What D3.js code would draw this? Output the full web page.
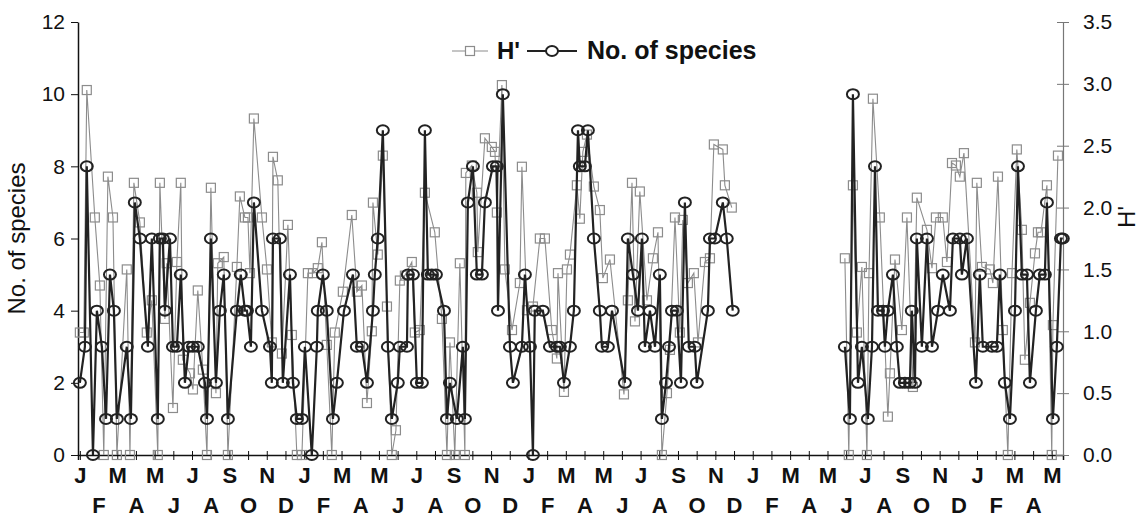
<!DOCTYPE html>
<html>
<head>
<meta charset="utf-8">
<script src="https://cdn.jsdelivr.net/npm/d3@7"></script>
<style>
body { margin: 0; background: #fff; }
text { font-family: "Liberation Sans", Arial, sans-serif; fill: #111; }
</style>
</head>
<body>
<div id="chart"></div>
<script>
// month letters, one per month from January of year 1 to May of year 5
const monthLabels = ['J','F','M','A','M','J','J','A','S','O','N','D',
                     'J','F','M','A','M','J','J','A','S','O','N','D',
                     'J','F','M','A','M','J','J','A','S','O','N','D',
                     'J','F','M','A','M','J','J','A','S','O','N','D',
                     'J','F','M','A','M']
const speciesTicks = [0, 2, 4, 6, 8, 10, 12]
const hTicks = [0, 0.5, 1, 1.5, 2, 2.5, 3, 3.5]

// [month since start, number of species]
const speciesData = [
  [0.00,2],[0.27,3],[0.37,8],[0.70,0],[0.91,4],[1.18,3],[1.40,1],[1.61,5],[1.82,4],[1.98,1],
  [2.51,3],[2.73,1],[2.94,7],[3.21,6],[3.64,3],[3.85,6],[4.17,1],[4.28,6],[4.44,6],[4.55,4],
  [4.82,6],[4.98,3],[5.19,3],[5.40,5],[5.62,2],[5.83,3],[6.05,3],[6.31,3],[6.69,2],[6.80,1],
  [7.01,6],[7.28,2],[7.49,4],[7.70,5],[7.92,1],[8.40,4],[8.61,5],[8.83,4],[8.94,4],[9.15,3],
  [9.31,7],[9.74,4],[10.17,3],[10.27,2],[10.33,6],[10.70,6],[10.86,2],[11.24,5],[11.40,2],[11.61,1],
  [11.88,1],[12.04,3],[12.41,0],[12.68,3],[12.73,4],[13.00,5],[13.21,4],[13.54,1],[13.75,2],[14.13,4],
  [14.61,5],[14.82,3],[15.09,3],[15.36,2],[15.68,4],[15.78,5],[15.94,6],[16.21,9],[16.48,3],[16.69,1],
  [17.01,2],[17.12,3],[17.50,3],[17.55,5],[17.82,5],[18.03,2],[18.30,2],[18.46,9],[18.62,5],[18.83,5],
  [19.05,5],[19.48,4],[19.64,1],[19.80,2],[20.17,1],[20.49,3],[20.60,1],[20.76,7],[21.03,8],[21.24,5],
  [21.51,5],[21.67,7],[22.10,8],[22.31,8],[22.37,4],[22.63,10],[23.01,3],[23.17,2],[23.65,3],[23.81,5],
  [24.08,3],[24.24,0],[24.34,4],[24.77,4],[25.15,3],[25.52,3],[25.68,3],[25.90,2],[26.22,3],[26.43,4],
  [26.65,9],[26.75,8],[27.02,8],[27.18,9],[27.50,6],[27.82,4],[27.93,3],[28.25,3],[28.47,4],[29.16,2],
  [29.32,6],[29.59,5],[29.86,4],[30.07,6],[30.23,3],[30.50,4],[30.77,3],[31.03,5],[31.14,1],[31.36,2],
  [31.52,3],[31.68,4],[31.94,4],[32.16,2],[32.37,7],[32.58,3],[32.90,3],[33.01,2],[33.60,4],[33.71,6],
  [33.97,6],[34.40,7],[34.61,6],[34.93,4],
  [40.93,3],[41.20,1],[41.36,10],[41.63,2],[41.84,3],[42.16,1],[42.38,3],[42.54,8],[42.70,4],[42.97,4],
  [43.07,3],[43.23,4],[43.50,5],[43.71,3],[43.87,2],[44.14,2],[44.41,2],[44.51,4],[44.68,2],[44.78,6],
  [45.05,3],[45.32,6],[45.59,3],[45.91,4],[46.17,5],[46.55,4],[46.71,6],[47.08,6],[47.19,5],[47.46,6],
  [47.94,2],[48.15,5],[48.31,3],[48.80,3],[49.06,3],[49.22,5],[49.49,2],[49.76,1],[50.03,4],[50.19,8],
  [50.40,5],[50.67,5],[50.83,2],[51.15,4],[51.36,5],[51.63,5],[51.74,7],[52.06,1],[52.27,3],[52.49,6],
  [52.59,6]
]

// [month since start, H']
const hData = [
  [0.00,0.99],[0.21,0.99],[0.37,2.95],[0.80,1.92],[1.07,1.37],[1.28,0],[1.50,2.25],[1.77,1.92],[1.98,0],[2.51,1.50],
  [2.68,0],[2.89,2.20],[3.21,1.88],[3.58,0.99],[3.85,1.25],[4.17,0],[4.28,2.20],[4.55,1.10],[4.65,1.55],[4.98,0.38],
  [5.19,1.56],[5.40,2.20],[5.51,0.77],[5.89,0.66],[6.05,0.53],[6.31,1.33],[6.58,0.69],[6.80,0],[7.01,2.16],[7.28,0.50],
  [7.38,1.55],[7.70,1.60],[7.92,0],[8.40,1.52],[8.56,2.09],[8.83,1.92],[8.99,1.92],[9.10,1.47],[9.31,2.72],[9.74,1.92],
  [10.01,1.50],[10.27,0.91],[10.33,2.41],[10.59,2.22],[10.81,0.82],[11.13,1.86],[11.34,0.97],[11.61,0],[11.88,0],[12.20,1.47],
  [12.47,1.47],[12.73,1.51],[12.95,1.72],[13.21,0.89],[13.48,0],[13.64,0.99],[14.07,1.32],[14.55,1.94],[14.82,1.32],[15.09,1.37],
  [15.36,0.42],[15.62,1.00],[15.68,2.04],[15.94,1.62],[16.21,2.42],[16.43,1.20],[16.69,0],[16.91,0.20],[17.12,1.41],[17.39,1.45],
  [17.76,1.56],[17.92,0.99],[18.19,1.01],[18.46,2.12],[18.99,1.80],[19.37,1.10],[19.64,0],[19.80,0.91],[20.06,0],[20.33,1.55],
  [20.60,0],[20.65,2.28],[20.97,2.34],[21.24,2.12],[21.29,1.64],[21.67,2.56],[22.04,2.49],[22.21,2.45],[22.31,1.96],[22.58,2.99],
  [22.74,1.50],[23.12,1.01],[23.54,1.39],[23.65,2.33],[23.92,1.17],[24.24,1.20],[24.61,1.75],[24.88,1.75],[25.25,1.01],[25.52,0.78],
  [25.58,1.47],[25.90,0.51],[26.06,1.50],[26.22,1.62],[26.59,2.18],[26.75,1.91],[26.91,2.45],[27.13,2.59],[27.50,2.17],[27.82,1.98],
  [27.98,1.43],[28.36,1.58],[29.11,0.49],[29.32,1.25],[29.54,2.20],[29.70,1.08],[29.96,2.13],[30.34,1.25],[30.66,1.59],[30.93,1.80],
  [31.14,0],[31.41,0.50],[31.57,0.85],[31.84,1.92],[32.10,0.99],[32.26,1.90],[32.53,1.39],[32.85,1.47],[33.07,0.91],[33.44,1.56],
  [33.71,1.59],[33.92,2.51],[34.40,2.47],[34.51,2.18],[34.88,2.00],
  [40.93,1.59],[41.14,0],[41.36,2.18],[41.57,0.99],[41.84,1.52],[42.11,0],[42.22,1.47],[42.43,2.88],[42.80,1.92],[43.23,0.31],
  [43.34,0.66],[43.61,1.58],[43.98,1.01],[44.25,1.92],[44.57,0.55],[44.78,2.08],[45.32,1.82],[45.59,1.51],[45.80,1.92],[46.17,1.92],
  [46.39,1.56],[46.66,2.36],[46.87,2.34],[47.08,2.25],[47.30,2.44],[47.89,0.91],[47.99,2.20],[48.26,1.52],[48.69,1.50],[48.85,1.39],
  [49.12,2.25],[49.38,1.01],[49.65,0],[49.87,1.47],[50.13,2.47],[50.40,1.82],[50.56,0.77],[50.83,1.23],[51.10,1.63],[51.26,1.80],
  [51.42,1.80],[51.74,2.18],[52.00,0],[52.06,1.05],[52.33,2.42]
]

const width = 1146, height = 519
const margin = { top: 22, right: 83, bottom: 64, left: 78 }
const w = width - margin.left - margin.right
const h = height - margin.top - margin.bottom
const translate = (x, y) => 'translate(' + x + ', ' + y + ')'

const svg = d3.select('#chart').append('svg')
    .attr('width', width)
    .attr('height', height)
const g = svg.append('g').attr('transform', translate(margin.left, margin.top))

const x = d3.scaleLinear().domain([-0.1, 52.6]).range([0, w])
const yS = d3.scaleLinear().domain([0, 12]).range([h, 0])
const yH = d3.scaleLinear().domain([0, 3.5]).range([h, 0])

// break lines where sampling stopped for months
const segments = data => {
    const out = [[]]
    data.forEach((d, i) => {
        if (i > 0 && d[0] - data[i - 1][0] > 3) out.push([])
        out[out.length - 1].push(d)
    })
    return out
}

// axes
const xAxis = g.append('g')
    .attr('transform', translate(0, h))
    .call(d3.axisBottom(x).tickValues(d3.range(monthLabels.length))
        .tickSize(5).tickFormat(i => monthLabels[i]))
xAxis.select('.domain').attr('stroke', '#111').attr('stroke-width', 1.5)
xAxis.selectAll('.tick line').attr('stroke', '#111').attr('y1', -4)
xAxis.selectAll('.tick text')
    .attr('y', (d, i) => i % 2 ? 42 : 12)
    .attr('font-size', 22)
    .attr('font-weight', 'bold')

const yAxisL = g.append('g')
    .call(d3.axisLeft(yS).tickValues(speciesTicks).tickSize(7).tickSizeOuter(0).tickPadding(6))
yAxisL.select('.domain').attr('stroke', '#111').attr('stroke-width', 1.5)
yAxisL.selectAll('.tick line').attr('stroke', '#111')
yAxisL.selectAll('.tick text').attr('font-size', 21)

const yAxisR = g.append('g')
    .attr('transform', translate(w, 0))
    .call(d3.axisRight(yH).tickValues(hTicks).tickSize(6).tickSizeOuter(0).tickPadding(14)
        .tickFormat(d3.format('.1f')))
yAxisR.select('.domain').attr('stroke', '#777').attr('stroke-width', 1.2)
yAxisR.selectAll('.tick line').attr('stroke', '#777').attr('x1', -6)
yAxisR.selectAll('.tick text').attr('font-size', 21)

g.append('text')
    .attr('transform', translate(-53, h / 2) + ' rotate(-90)')
    .attr('text-anchor', 'middle')
    .attr('font-size', 24)
    .text('No. of species')
g.append('text')
    .attr('transform', translate(w + 72, 195) + ' rotate(-90)')
    .attr('text-anchor', 'middle')
    .attr('font-size', 24)
    .text("H'")

// H' series (grey, squares)
const hLine = d3.line().x(d => x(d[0])).y(d => yH(d[1]))
g.append('g').selectAll('path').data(segments(hData)).join('path')
    .attr('d', hLine)
    .attr('fill', 'none')
    .attr('stroke', '#8c8c8c')
    .attr('stroke-width', 1.1)
g.append('g').selectAll('rect').data(hData).join('rect')
    .attr('x', d => x(d[0]) - 4.5)
    .attr('y', d => yH(d[1]) - 4.5)
    .attr('width', 9)
    .attr('height', 9)
    .attr('fill', 'none')
    .attr('stroke', '#8c8c8c')
    .attr('stroke-width', 1.2)

// number of species (dark, circles)
const sLine = d3.line().x(d => x(d[0])).y(d => yS(d[1]))
g.append('g').selectAll('path').data(segments(speciesData)).join('path')
    .attr('d', sLine)
    .attr('fill', 'none')
    .attr('stroke', '#222')
    .attr('stroke-width', 2.2)
g.append('g').selectAll('ellipse').data(speciesData).join('ellipse')
    .attr('cx', d => x(d[0]))
    .attr('cy', d => yS(d[1]))
    .attr('rx', 6)
    .attr('ry', 5)
    .attr('fill', 'none')
    .attr('stroke', '#222')
    .attr('stroke-width', 2)

// legend
const lg = svg.append('g').attr('transform', translate(452, 51))
lg.append('line').attr('x1', 0).attr('x2', 36).attr('stroke', '#8c8c8c').attr('stroke-width', 1.1)
lg.append('rect').attr('x', 13.5).attr('y', -4.5).attr('width', 9).attr('height', 9)
    .attr('fill', '#fff').attr('stroke', '#8c8c8c').attr('stroke-width', 1.2)
lg.append('text').attr('x', 45).attr('y', 8).attr('font-size', 24).attr('font-weight', 'bold').text("H'")
lg.append('line').attr('x1', 75).attr('x2', 125).attr('stroke', '#222').attr('stroke-width', 2.2)
lg.append('ellipse').attr('cx', 100).attr('cy', 0).attr('rx', 6).attr('ry', 5)
    .attr('fill', '#fff').attr('stroke', '#222').attr('stroke-width', 2)
lg.append('text').attr('x', 135).attr('y', 8).attr('font-size', 25).attr('font-weight', 'bold').text('No. of species')
</script>
</body>
</html>
